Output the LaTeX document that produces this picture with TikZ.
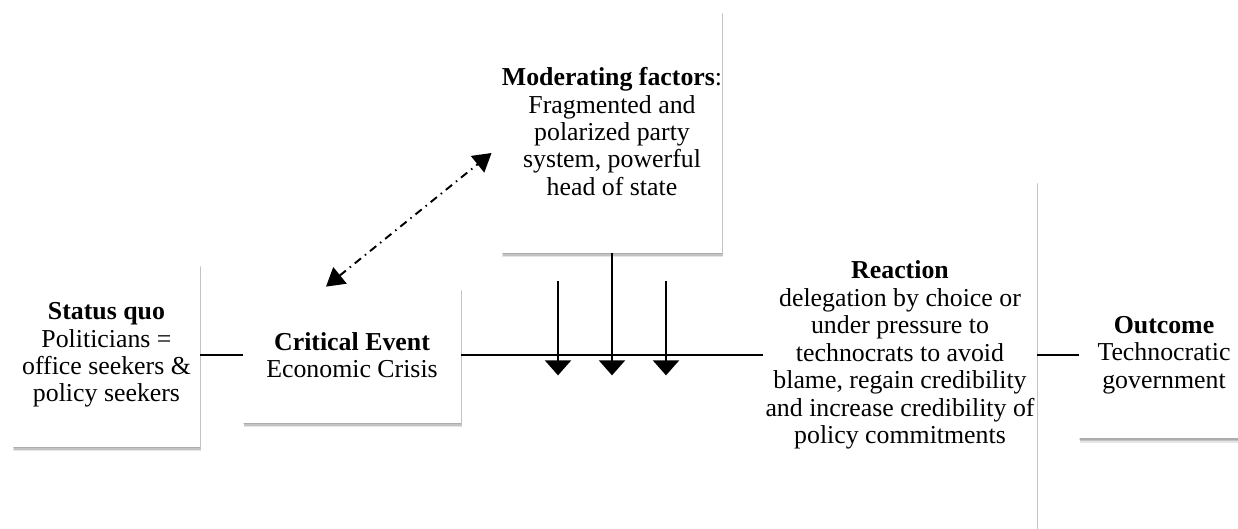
\documentclass[tikz,border=0pt]{standalone}
\usepackage{fontspec}
\setmainfont{Liberation Serif}
\usetikzlibrary{arrows.meta,shadows}

\begin{document}
\begin{tikzpicture}[
  box/.style = {fill=white, align=center, inner sep=0pt,
    font=\fontsize{14.7}{15.6}\selectfont,
    drop shadow={shadow xshift=0cm, shadow yshift=-0.03cm, opacity=0.12, fill=black},
    drop shadow={shadow xshift=0.02cm, shadow yshift=-0.06cm, opacity=0.15, fill=black},
    drop shadow={shadow xshift=0.01cm, shadow yshift=-0.09cm, opacity=0.1, fill=black}},
  link/.style = {line width=1.1pt},
  factor/.style = {line width=1.3pt, -{Triangle[width=0.52cm, length=0.3cm]}},
  interact/.style = {line width=1.1pt,
    dash pattern=on 0.16cm off 0.1cm on 0.03cm off 0.1cm,
    {Triangle[width=0.42cm, length=0.36cm]}-{Triangle[width=0.42cm, length=0.36cm]}}
]
\useasboundingbox (0, 0) rectangle (24.76, 10.56);
\node (statusquo) [box, minimum width=3.74cm, minimum height=3.68cm] at (2.13, 3.46)
  {\textbf{Status quo}\\Politicians =\\office seekers \&\\policy seekers};
\node (critical) [box, minimum width=4.36cm, minimum height=2.72cm] at (7.04, 3.46)
  {\textbf{Critical Event}\\Economic Crisis};
\node (moderating) [box, minimum width=4.36cm, minimum height=4.86cm] at (12.24, 7.93)
  {\textbf{Moderating factors}:\\Fragmented and\\polarized party\\system, powerful\\head of state};
\node (reaction) [box, minimum width=5.48cm, minimum height=7cm] at (18, 3.46)
  {\textbf{Reaction}\\delegation by choice or\\under pressure to\\technocrats to avoid\\blame, regain credibility\\and increase credibility of\\policy commitments};
\node (outcome) [box, minimum width=3.4cm, minimum height=3.34cm] at (23.28, 3.46)
  {\textbf{Outcome}\\Technocratic\\government};
% sequence
\draw [link] (statusquo.east) -- (critical.west);
\draw [link] (critical.east) -- (reaction.west);
\draw [link] (reaction.east) -- (outcome.west);
% moderating factors
\draw [link] (moderating.south) -- (moderating.south |- critical.east);
\foreach \dx in {-1.08, 0, 1.08}
  \draw [factor] ([xshift=\dx cm, yshift=-0.56cm]moderating.south) -- ++(0, -1.88);
\draw [interact] ([xshift=-0.52cm]critical.north) -- ([xshift=-0.2cm, yshift=-0.43cm]moderating.west);
\end{tikzpicture}
\end{document}
